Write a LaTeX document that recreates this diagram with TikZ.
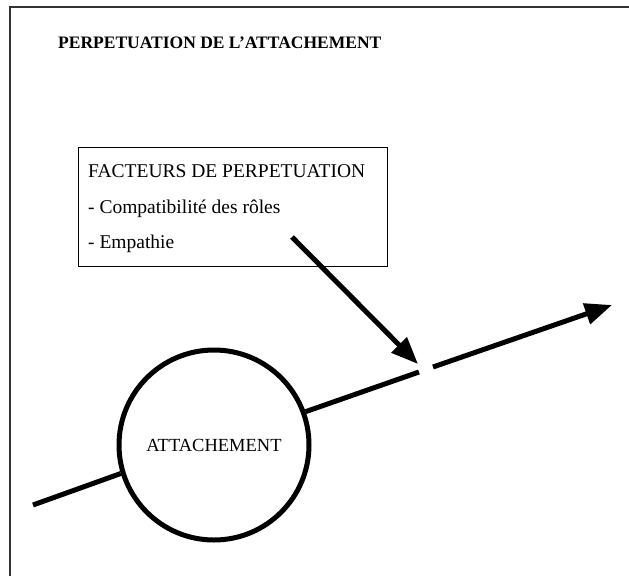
\documentclass[tikz,border=0pt]{standalone}
\usepackage{fontspec}
\setmainfont{Liberation Serif}
\usetikzlibrary{arrows.meta}

\begin{document}
\begin{tikzpicture}[x=1pt,y=-1pt,
    epais/.style={line width=5pt},
    fleche/.style={epais,-{Triangle[length=27pt,width=21pt]}},
    facteur/.style={anchor=base west,inner sep=0pt,font=\fontsize{19.5}{21}\selectfont}]
    % frame of the page
    \useasboundingbox (0,0) rectangle (629,576);
    \coordinate (cadre) at (10,7);
    \draw[line width=1.2pt,black!80] (629,7) -- (cadre) -- (10,576);

    \node[anchor=base west,inner sep=0pt,font=\bfseries\fontsize{17.5}{19}\selectfont] (titre) at (58,48) {PERPETUATION DE L'ATTACHEMENT};

    % box of factors
    \coordinate (b0) at (78,147);
    \coordinate (b1) at (387,266);
    \draw[line width=1pt] (b0) rectangle (b1);
    \node[facteur] (fac) at (88,177) {FACTEURS DE PERPETUATION};
    \node[facteur] (comp) at (88,213) {- Compatibilité des rôles};
    \node[facteur] (emp) at (88,248) {- Empathie};

    % attachment and its line
    \node[circle,draw,epais,fill=white,minimum size=190,inner sep=0pt,
          font=\fontsize{18.5}{20}\selectfont] (att) at (214,445) {ATTACHEMENT};
    \coordinate (g0) at (33,505);
    \coordinate (g1) at (419,372);
    \coordinate (d0) at (433,367);
    \coordinate (d1) at (612,305);
    \draw[epais] (g0) -- (att.197);
    \draw[epais] (att.20) -- (g1);
    \draw[fleche] (d0) -- (d1);

    \coordinate (s) at (292,237);
    \coordinate (t) at (418,364);
    \draw[fleche] (s) -- (t);
\end{tikzpicture}
\end{document}
